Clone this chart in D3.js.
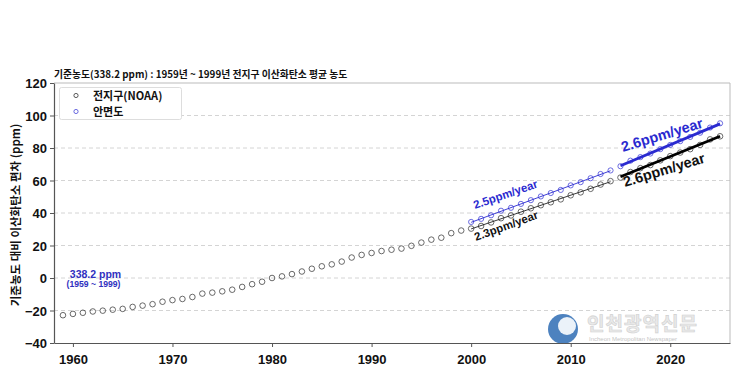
<!DOCTYPE html>
<html><head><meta charset="utf-8">
<script src="https://cdn.jsdelivr.net/npm/d3@7"></script>
<style>
body{margin:0;background:#fff;}
svg{display:block;}
text{font-family:"Liberation Sans","Noto Sans CJK KR",Arial,sans-serif;}
.kr{font-family:"Noto Sans CJK KR","Liberation Sans",sans-serif;}
</style></head><body>
<svg id="c" width="736" height="367"></svg>
<script>
// ---- data ----
const globalYears = d3.range(1959, 2026);
const globalValues = [-22.9,-22.1,-21.4,-20.6,-20.1,-19.5,-19.0,-17.8,-17.0,-16.1,
  -14.6,-13.6,-12.9,-11.7,-9.6,-9.0,-8.2,-7.2,-5.5,-3.8,
  -2.3,0.0,1.0,2.4,4.0,5.7,7.2,8.4,10.1,12.6,
  14.2,15.4,16.6,17.4,18.1,19.8,21.8,23.6,24.8,27.6,
  29.2,30.4,32.0,34.2,36.8,38.5,40.8,42.9,44.8,46.6,
  48.4,50.9,52.7,54.9,57.5,59.6,61.8,65.2,67.6,69.5,
  72.4,75.0,77.2,79.3,81.9,85.3,87.2];
const anmyeonYears = d3.range(2000, 2026);
const anmyeonValues = [34.5,36.4,38.6,41.4,43.2,45.6,47.9,50.2,52.3,54.2,
  57.0,59.0,61.4,64.0,66.2,68.8,72.2,74.4,76.6,79.3,
  81.9,84.2,86.8,89.4,92.6,95.2];
const xTicks = [1960,1970,1980,1990,2000,2010,2020];
const yTicks = [-40,-20,0,20,40,60,80,100,120];
const seriesNames = ["전지구(NOAA)","안면도"];
const trendPeriods = [[2000,2014],[2015,2025]];
const trendLabels = {global:["2.3ppm/year","2.6ppm/year"], anmyeon:["2.5ppm/year","2.6ppm/year"]};
const titleText = "기준농도(338.2 ppm) : 1959년 ~ 1999년 전지구 이산화탄소 평균 농도";
const yLabel = "기준농도 대비 이산화탄소 편차 (ppm)";
const baseText = ["338.2 ppm","(1959 ~ 1999)"];

// ---- layout ----
const L=54, R=730, T=83, B=343;
const svg=d3.select("#c");
const x=d3.scaleLinear().domain([1958.1,2026.0]).range([L,R]);
const y=d3.scaleLinear().domain([-40,120]).range([B,T]);
const BLACK="#222", BLUE="#2a2ad0";

// grid
svg.append("g").selectAll("line").data(yTicks.filter(v=>v>-40&&v<120)).join("line")
  .attr("x1",L).attr("x2",R).attr("y1",d=>y(d)).attr("y2",d=>y(d))
  .attr("stroke","#d4d4d4").attr("stroke-width",1).attr("stroke-dasharray","4,3");

// frame (top/right light)
svg.append("line").attr("x1",L).attr("x2",R).attr("y1",T).attr("y2",T).attr("stroke","#bbb");
svg.append("line").attr("x1",R).attr("x2",R).attr("y1",T).attr("y2",B).attr("stroke","#bbb");

// watermark (source logo) - behind data
const wm=svg.append("g").attr("opacity",0.85);
wm.append("circle").attr("cx",563).attr("cy",329).attr("r",15).attr("fill","#2f6db5");
wm.append("circle").attr("cx",567).attr("cy",326).attr("r",9).attr("fill","#e8f0f8");
wm.append("text").attr("class","kr").attr("x",587).attr("y",331).attr("font-size",19)
  .attr("font-weight","bold").attr("fill","#e6e6e6").attr("stroke","#c8c8c8").attr("stroke-width",0.6)
  .attr("letter-spacing",1).text("인천광역신문");
wm.append("text").attr("x",589).attr("y",341).attr("font-size",6).attr("fill","#bbb")
  .text("Incheon Metropolitan Newspaper");

// axes
const xAxis=svg.append("g").attr("transform",`translate(0,${B})`)
  .call(d3.axisBottom(x).tickValues(xTicks).tickFormat(d3.format("d")).tickSize(4).tickSizeOuter(0));
const yAxis=svg.append("g").attr("transform",`translate(${L},0)`)
  .call(d3.axisLeft(y).tickValues(yTicks).tickSize(4).tickSizeOuter(0));
[xAxis,yAxis].forEach(g=>{
  g.select(".domain").attr("stroke","#555").attr("stroke-width",1.2);
  g.selectAll(".tick line").attr("stroke","#555");
  g.selectAll("text").attr("font-size",13).attr("font-weight","bold").attr("fill","#111");
});
xAxis.selectAll("text").attr("dy","1.05em");
yAxis.selectAll("text").attr("x",-7).attr("dy","0.35em").text(d=>d<0?"−"+Math.abs(d):d);

// y label
svg.append("text").attr("class","kr").attr("transform",`translate(20,${(T+B)/2+2}) rotate(-90)`)
  .attr("text-anchor","middle").attr("font-size",11.5).attr("font-weight","bold").attr("fill","#111")
  .text(yLabel);

// title
svg.append("text").attr("class","kr").attr("x",54).attr("y",78).attr("font-size",9.8)
  .attr("font-weight","bold").attr("fill","#111").text(titleText);

// regression helper
function fit(xs,ys){
  const mx=d3.mean(xs), my=d3.mean(ys);
  let num=0,den=0; xs.forEach((v,i)=>{num+=(v-mx)*(ys[i]-my);den+=(v-mx)*(v-mx);});
  const b=num/den; return {b, a:my-b*mx};
}
function trend(years,vals,period,color,width){
  const idx=years.map((v,i)=>i).filter(i=>years[i]>=period[0]&&years[i]<=period[1]);
  const f=fit(idx.map(i=>years[i]),idx.map(i=>vals[i]));
  svg.append("line").attr("x1",x(period[0])).attr("x2",x(period[1]))
    .attr("y1",y(f.a+f.b*period[0])).attr("y2",y(f.a+f.b*period[1]))
    .attr("stroke",color).attr("stroke-width",width).attr("stroke-linecap","butt");
}

// points
svg.append("g").selectAll("circle").data(globalYears).join("circle")
  .attr("cx",d=>x(d)).attr("cy",(d,i)=>y(globalValues[i])).attr("r",2.8)
  .attr("fill","none").attr("stroke","#444").attr("stroke-width",0.8);
svg.append("g").selectAll("circle").data(anmyeonYears).join("circle")
  .attr("cx",d=>x(d)).attr("cy",(d,i)=>y(anmyeonValues[i])).attr("r",2.6)
  .attr("fill","none").attr("stroke","#4848d8").attr("stroke-width",0.8);

// trend lines
trend(globalYears,globalValues,trendPeriods[0],BLACK,0.9);
trend(anmyeonYears,anmyeonValues,trendPeriods[0],BLUE,0.9);
trend(globalYears,globalValues,trendPeriods[1],"#000",2.8);
trend(anmyeonYears,anmyeonValues,trendPeriods[1],BLUE,2.8);

// trend labels
function rot(txt,cx,cy,ang,size,color){
  svg.append("text").attr("transform",`translate(${cx},${cy}) rotate(${ang})`)
    .attr("font-size",size).attr("font-weight","bold").attr("fill",color).text(txt);
}
rot(trendLabels.anmyeon[0],475,209,-19,11.5,BLUE);
rot(trendLabels.global[0],476,241,-20,11.5,"#111");
rot(trendLabels.anmyeon[1],623,152,-17,14.5,BLUE);
rot(trendLabels.global[1],625,187,-17,14.5,"#111");

// baseline annotation
svg.append("text").attr("x",95.5).attr("y",278).attr("text-anchor","middle").attr("font-size",10.5)
  .attr("font-weight","bold").attr("fill","#3030c0").text(baseText[0]);
svg.append("text").attr("x",93.5).attr("y",287).attr("text-anchor","middle").attr("font-size",8.6)
  .attr("font-weight","bold").attr("fill","#3030c0").text(baseText[1]);

// legend
const lg=svg.append("g");
lg.append("rect").attr("x",59.5).attr("y",87.5).attr("width",122).attr("height",32)
  .attr("fill","#fff").attr("stroke","#ddd").attr("rx",2);
seriesNames.forEach((n,i)=>{
  const yy=95.5+i*16;
  lg.append("circle").attr("cx",76).attr("cy",yy).attr("r",2.1).attr("fill","none")
    .attr("stroke",i?"#4848d8":"#333").attr("stroke-width",0.8);
  lg.append("text").attr("class","kr").attr("x",93).attr("y",yy+4).attr("font-size",11)
    .attr("font-weight","bold").attr("fill","#111").text(n);
});
</script>
</body></html>
